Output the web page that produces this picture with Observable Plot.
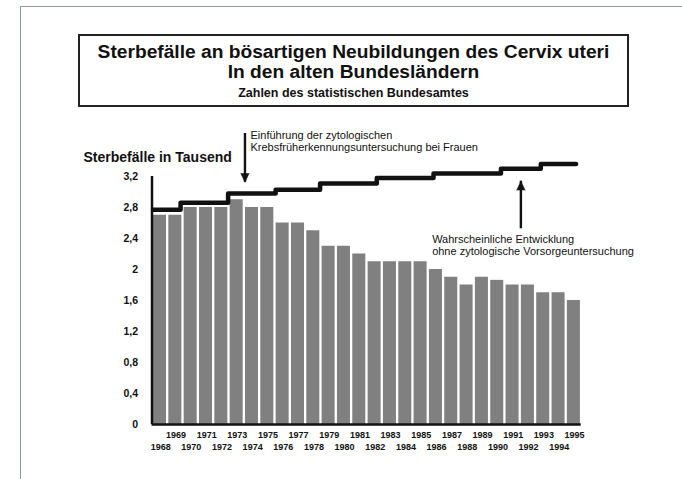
<!DOCTYPE html>
<html>
<head>
<meta charset="utf-8">
<script src="https://cdn.jsdelivr.net/npm/d3@7"></script>
<script src="https://cdn.jsdelivr.net/npm/@observablehq/plot@0.6"></script>
<style>
  html, body { margin: 0; padding: 0; background: #fff; }
  #page { position: relative; width: 682px; height: 479px; overflow: hidden; font-family: "Liberation Sans", Arial, sans-serif; color: #111; }
  #frameTop { position: absolute; left: 20px; top: 6px; width: 662px; height: 0; border-top: 1px solid #8f9b9b; }
  #frameLeft { position: absolute; left: 20px; top: 6px; width: 0; height: 473px; border-left: 1px solid #8f9b9b; }
  #titleBox { position: absolute; left: 78px; top: 34px; width: 547px; height: 69px; border: 2px solid #222; text-align: center; font-weight: bold; }
  #t1 { position: absolute; left: 0; right: 0; top: 6px; font-size: 19.2px; line-height: 20px; }
  #t2 { position: absolute; left: 0; right: 0; top: 26px; font-size: 19.2px; line-height: 20px; }
  #t3 { position: absolute; left: 0; right: 0; top: 50px; font-size: 12.5px; line-height: 14px; }
  #chart { position: absolute; left: 0; top: 115px; }
</style>
</head>
<body>
<div id="page">
  <div id="frameTop"></div>
  <div id="frameLeft"></div>
  <div id="titleBox">
    <div id="t1">Sterbefälle an bösartigen Neubildungen des Cervix uteri</div>
    <div id="t2">In den alten Bundesländern</div>
    <div id="t3">Zahlen des statistischen Bundesamtes</div>
  </div>
  <div id="chart"></div>
</div>
<script>
// Years and recorded deaths (thousands)
const years = [1968,1969,1970,1971,1972,1973,1974,1975,1976,1977,1978,1979,1980,1981,1982,1983,1984,1985,1986,1987,1988,1989,1990,1991,1992,1993,1994,1995];
const deaths = [2.7,2.7,2.8,2.8,2.8,2.9,2.8,2.8,2.6,2.6,2.5,2.3,2.3,2.2,2.1,2.1,2.1,2.1,2.0,1.9,1.8,1.9,1.86,1.8,1.8,1.7,1.7,1.6];

// Probable development without screening (step line): start positions and levels
const trendX = [1967.5,1969.3,1972.4,1975.5,1978.4,1982.1,1985.8,1990.2,1992.8,1995.1];
const trendY = [2.77,2.86,2.98,3.03,3.11,3.18,3.24,3.30,3.36,3.36];

// Axis ticks
const yTicks = [0,0.4,0.8,1.2,1.6,2,2.4,2.8,3.2];
const oddYears = years.filter(y => y % 2 === 1);
const evenYears = years.filter(y => y % 2 === 0);

// Annotations
const yAxisTitle = "Sterbefälle in Tausend";
const arrows = [
  {x: 1973.5, from: 3.755, tip: 3.126, dir: 180},
  {x: 1991.5, from: 2.525, tip: 3.14, dir: 0}
];
const notes = [
  {x: 1973.86, y: 3.66, text: "Einführung der zytologischen\nKrebsfrüherkennungsuntersuchung bei Frauen"},
  {x: 1985.71, y: 2.31, text: "Wahrscheinliche Entwicklung\nohne zytologische Vorsorgeuntersuchung"}
];

const bars = years.map((year, i) => ({year, value: deaths[i]}));
const trend = trendX.map((x, i) => ({x, y: trendY[i]}));
const ink = "#111";

const chart = Plot.plot({
  width: 682,
  height: 364,
  marginTop: 61,
  marginBottom: 55,
  marginLeft: 152.5,
  marginRight: 100.3,
  x: {type: "linear", domain: [1967.5, 1995.5], axis: null},
  y: {domain: [0, 3.2], axis: null},
  style: {fontFamily: "Liberation Sans, Arial, sans-serif", color: ink, background: "transparent", overflow: "visible"},
  marks: [
    Plot.rectY(bars, {x1: d => d.year - 0.5, x2: d => d.year + 0.5, y1: 0, y2: "value", insetLeft: 0.5, insetRight: 1.8, fill: "#808080"}),
    Plot.ruleY([0], {x1: 1967.5, x2: 1995.5, stroke: ink, strokeWidth: 2.5, dx: -1}),
    Plot.ruleX([1967.5], {y1: 0, y2: 3.2, stroke: ink, strokeWidth: 2.5, dx: -1}),
    Plot.line(trend, {x: "x", y: "y", curve: "step-after", stroke: ink, strokeWidth: 4.5}),
    Plot.axisY(yTicks, {anchor: "left", tickSize: 0, tickPadding: 15, label: null, fontSize: 10.5, fontWeight: "bold", tickFormat: d => String(d).replace(".", ",")}),
    Plot.axisX(oddYears, {anchor: "bottom", tickSize: 0, tickPadding: 7, label: null, fontSize: 9, fontWeight: "bold", tickFormat: d => String(d)}),
    Plot.axisX(evenYears, {anchor: "bottom", tickSize: 0, tickPadding: 19, label: null, fontSize: 9, fontWeight: "bold", tickFormat: d => String(d)}),
    Plot.text([yAxisTitle], {frameAnchor: "top-left", dx: -69.5, dy: -24.3, textAnchor: "start", fontWeight: "bold", fontSize: 14, fill: ink}),
    Plot.ruleX(arrows, {x: "x", y1: d => d.dir === 180 ? d.from : d.tip, y2: d => d.dir === 180 ? d.tip : d.from, stroke: ink, strokeWidth: 2.4}),
    Plot.vector(arrows, {x: "x", y: "tip", rotate: "dir", length: 9, r: 4.2, shape: "spike", anchor: "end", fill: ink, stroke: ink, strokeWidth: 0.5}),
    Plot.text(notes, {x: "x", y: "y", text: "text", textAnchor: "start", lineHeight: 1.1, fontSize: 11, fill: ink})
  ]
});
document.getElementById("chart").appendChild(chart);
</script>
</body>
</html>
